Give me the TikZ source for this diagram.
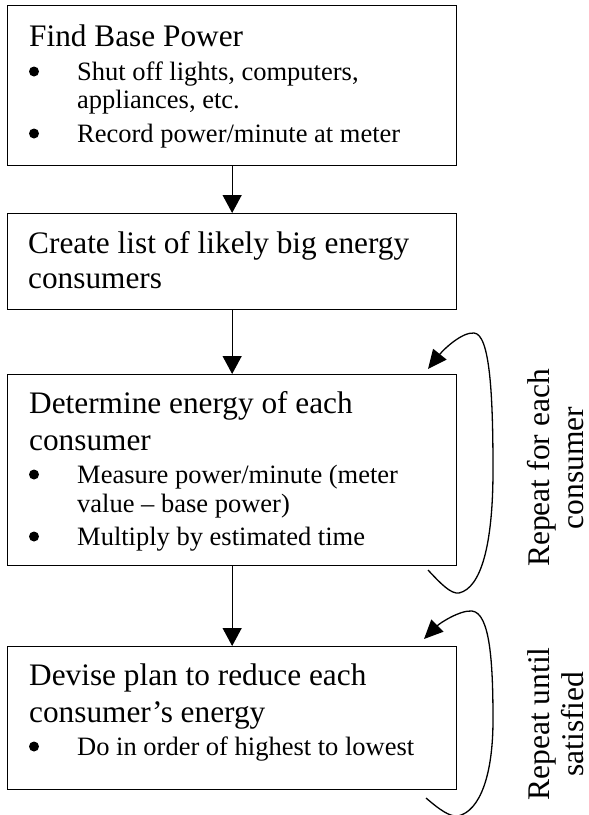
\documentclass[tikz,border=0pt]{standalone}
\usepackage{fontspec}
\setmainfont{Liberation Serif}
\usetikzlibrary{arrows.meta}

\begin{document}
\begin{tikzpicture}[x=1pt,y=-1pt,
  stepbox/.style={draw=black, line width=1.3pt, rectangle, inner sep=0pt,
    anchor=north west, minimum width=449pt},
  ttl/.style={anchor=base west, inner sep=0pt, font=\fontsize{31.3}{36}\selectfont},
  itm/.style={anchor=base west, inner sep=0pt, font=\fontsize{26.5}{29}\selectfont},
  blt/.style={circle, fill=black, inner sep=0pt, minimum size=10pt},
  flow/.style={line width=1.3pt, -{Triangle[width=19pt,length=18pt]}},
  loopline/.style={line width=1.3pt, -{Triangle[width=17pt,length=19pt]}},
  side/.style={anchor=base, rotate=90, inner sep=0pt, font=\fontsize{31.5}{36}\selectfont}]
\useasboundingbox (0,0) rectangle (589,815);

% boxes
\node[stepbox, minimum height=160pt] (b1) at (7,5) {};
\node[stepbox, minimum height=96pt]  (b2) at (7,213) {};
\node[stepbox, minimum height=191pt] (b3) at (7,374) {};
\node[stepbox, minimum height=143pt] (b4) at (7,646) {};

% box 1
\node[ttl] (t1) at (29,46) {Find Base Power};
\node[blt] (d1a) at (34,71.5) {};
\node[itm] (i1a) at (77,80) {Shut off lights, computers,};
\node[itm] (i1b) at (77,108) {appliances, etc.};
\node[blt] (d1b) at (34,133.5) {};
\node[itm] (i1c) at (77,142) {Record power/minute at meter};

% box 2
\node[ttl] (t2a) at (28,253) {Create list of likely big energy};
\node[ttl] (t2b) at (28,288) {consumers};

% box 3
\node[ttl] (t3a) at (29,413) {Determine energy of each};
\node[ttl] (t3b) at (29,450) {consumer};
\node[blt] (d3a) at (34,474.5) {};
\node[itm] (i3a) at (77,483) {Measure power/minute (meter};
\node[itm] (i3b) at (77,512) {value – base power)};
\node[blt] (d3b) at (34,536.5) {};
\node[itm] (i3c) at (77,545) {Multiply by estimated time};

% box 4
\node[ttl] (t4a) at (29,685) {Devise plan to reduce each};
\node[ttl] (t4b) at (29,722) {consumer’s energy};
\node[blt] (d4a) at (34,746.5) {};
\node[itm] (i4a) at (77,755) {Do in order of highest to lowest};

% flow arrows
\draw[flow] (b1.south) -- (b2.north);
\draw[flow] (b2.south) -- (b3.north);
\draw[flow] (b3.south) -- (b4.north);

% repeat loops
\coordinate (l1s) at (428,570);
\coordinate (l1e) at (428,369);
\coordinate (l2s) at (426,798);
\coordinate (l2e) at (424,639);
\draw[loopline] (l1s) .. controls (442,585) and (451,594) .. (459,593)
  .. controls (481,588) and (493,545) .. (493,470)
  .. controls (493,395) and (490,334) .. (474,333)
  .. controls (462,332) and (444,349) .. (l1e);
\draw[loopline] (l2s) .. controls (440,810) and (450,817) .. (458,816)
  .. controls (480,811) and (493,775) .. (493,720)
  .. controls (493,662) and (490,613) .. (472,611)
  .. controls (460,610) and (440,623) .. (l2e);

% loop labels
\node[side] (r1a) at (549,468) {Repeat for each};
\node[side] (r1b) at (583,468) {consumer};
\node[side] (r2a) at (549,724) {Repeat until};
\node[side] (r2b) at (583,724) {satisfied};
\end{tikzpicture}
\end{document}
